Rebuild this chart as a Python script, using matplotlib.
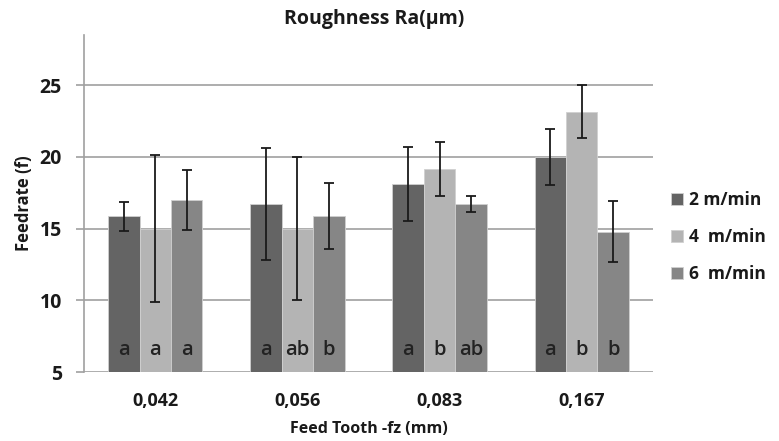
import matplotlib.pyplot as plt
import numpy as np

# feed per tooth groups and cutting speeds
feed_tooth = ['0,042', '0,056', '0,083', '0,167']
speeds = ['2 m/min', '4  m/min', '6  m/min']

ra_2 = [15.85, 16.7, 18.1, 20.0]
ra_4 = [15.0, 15.0, 19.15, 23.15]
ra_6 = [17.0, 15.85, 16.7, 14.8]

err_2 = [1.0, 3.9, 2.6, 1.95]
err_4 = [5.1, 5.0, 1.9, 1.85]
err_6 = [2.1, 2.3, 0.55, 2.1]

letters_2 = ['a', 'a', 'a', 'a']
letters_4 = ['a', 'ab', 'b', 'b']
letters_6 = ['a', 'b', 'ab', 'b']

plt.rcParams['font.family'] = ['Open Sans', 'DejaVu Sans']

fig = plt.figure(figsize=(7.79, 4.41), dpi=100)
ax = fig.add_axes([0.108, 0.156, 0.730, 0.765])

colors = ['#646464', '#b4b4b4', '#868686']
width = 0.221
x = np.arange(len(feed_tooth))
series = [(ra_2, err_2, letters_2), (ra_4, err_4, letters_4), (ra_6, err_6, letters_6)]

for i, (vals, errs, lets) in enumerate(series):
    pos = x + (i - 1) * width
    ax.bar(pos, np.array(vals) - 5, width, bottom=5, color=colors[i], edgecolor='#d0d0d0',
           linewidth=0.6, label=speeds[i], zorder=2)
    ax.errorbar(pos, vals, yerr=errs, fmt='none', ecolor='#1a1a1a', elinewidth=1.3,
                capsize=3.5, capthick=1.3, zorder=3)
    for p, l in zip(pos, lets):
        ax.text(p, 6.55, l, ha='center', va='center', fontsize=14.5, fontweight='semibold',
                color='#222222', zorder=4)

ax.set_xlim(-0.5, 3.5)
ax.set_ylim(5, 28.5)
ax.set_yticks([5, 10, 15, 20, 25])
ax.set_xticks(x)
ax.set_xticklabels(feed_tooth, fontsize=13, fontweight='bold', color='#1a1a1a')
for lab in ax.get_yticklabels():
    lab.set_fontsize(14)
    lab.set_fontweight('bold')
    lab.set_color('#1a1a1a')
ax.tick_params(axis='x', length=0, pad=14)
ax.tick_params(axis='y', length=6, color='#a0a0a0', width=1.2, pad=10)

ax.grid(axis='y', color='#a0a0a0', linewidth=1.2, zorder=0)
ax.set_axisbelow(True)
for side in ['top', 'right', 'bottom']:
    ax.spines[side].set_visible(False)
ax.spines['left'].set_color('#a0a0a0')
ax.spines['left'].set_linewidth(1.2)

fig.text(0.48, 0.958, 'Roughness Ra(µm)', ha='center', va='center', fontsize=14,
         fontweight='bold', color='#1a1a1a')
ax.set_xlabel('Feed Tooth -fz (mm)', fontsize=11.5, fontweight='bold', color='#1a1a1a', labelpad=8)
ax.set_ylabel('Feedrate (f)', fontsize=12, fontweight='bold', color='#1a1a1a', labelpad=5)

leg = ax.legend(loc='center left', bbox_to_anchor=(1.005, 0.40), frameon=False,
                prop={'size': 12.5, 'weight': 'bold'}, handlelength=0.7, handleheight=0.7,
                handletextpad=0.3, labelspacing=1.1)
for t in leg.get_texts():
    t.set_color('#1a1a1a')

fig.savefig('out.png', dpi=100)
